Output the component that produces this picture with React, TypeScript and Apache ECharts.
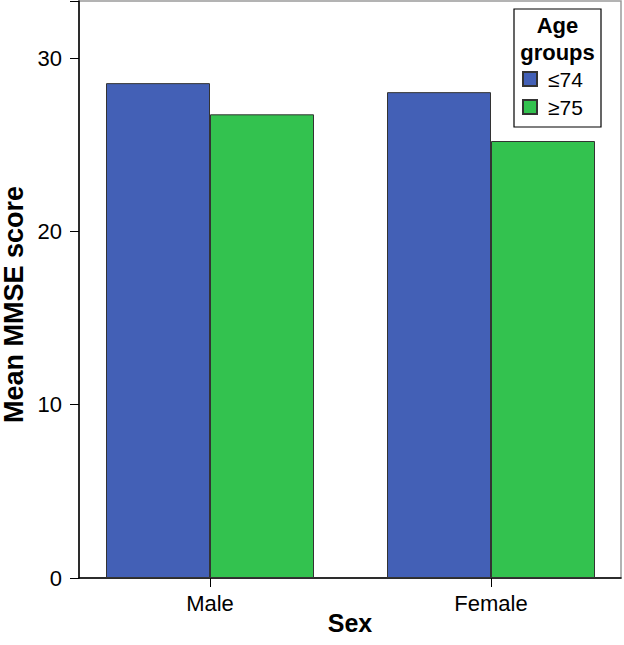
import React, { useEffect, useRef } from "react";
import * as echarts from "echarts";

const categories = ["Male", "Female"];
const groupNames = ["≤74", "≥75"];
const youngValues = [28.56, 28.04];
const oldValues = [26.76, 25.22];
const yTicks = [0, 10, 20, 30];

const FONT = "'Liberation Sans', Arial, Helvetica, sans-serif";

export default function App() {
  const ref = useRef<HTMLDivElement>(null);
  useEffect(() => {
    if (!ref.current) return;
    const chart = echarts.init(ref.current, null, { renderer: "svg" });
    const yMax = 33.3;
    chart.setOption({
      animation: false,
      backgroundColor: "#ffffff",
      textStyle: { fontFamily: FONT },
      grid: [
        {
          left: 69.5,
          width: 562,
          top: 1,
          bottom: 67,
          containLabel: false,
          outerBoundsMode: "none",
        },
        {
          left: 79,
          right: 3,
          top: 1,
          bottom: 67,
          show: true,
          borderColor: "#9a9a9a",
          borderWidth: 1.5,
          containLabel: false,
          outerBoundsMode: "none",
        },
      ],
      xAxis: [
        {
          type: "category",
          gridIndex: 0,
          data: categories,
          axisLine: { show: false },
          axisTick: {
            show: true,
            alignWithLabel: true,
            length: 9,
            lineStyle: { color: "#000", width: 1 },
          },
          axisLabel: {
            fontSize: 22,
            color: "#000",
            margin: 14,
            fontFamily: FONT,
          },
          splitLine: { show: false },
        },
        {
          type: "value",
          gridIndex: 1,
          min: 0,
          max: 1,
          axisLine: { show: true, onZero: false, lineStyle: { color: "#000", width: 1.5 } },
          axisTick: { show: false },
          axisLabel: { show: false },
          splitLine: { show: false },
          name: "Sex",
          nameLocation: "middle",
          nameGap: 32,
          nameMoveOverlap: false,
          nameTextStyle: {
            fontSize: 25,
            fontWeight: "bold",
            color: "#000",
            fontFamily: FONT,
          },
        },
      ],
      yAxis: [
        {
          type: "value",
          gridIndex: 0,
          min: 0,
          max: yMax,
          show: false,
          splitLine: { show: false },
        },
        {
          type: "value",
          gridIndex: 1,
          min: 0,
          max: yMax,
          interval: 10,
          axisLine: { show: true, lineStyle: { color: "#000", width: 1.5 } },
          axisTick: { show: true, length: 9, lineStyle: { color: "#000", width: 1 } },
          axisLabel: {
            fontSize: 22,
            color: "#000",
            margin: 17,
            fontFamily: FONT,
            formatter: (v: number) => (yTicks.includes(v) ? String(v) : ""),
          },
          splitLine: { show: false },
          name: "Mean MMSE score",
          nameLocation: "middle",
          nameRotate: 90,
          nameGap: 52,
          nameMoveOverlap: false,
          nameTextStyle: {
            fontSize: 27,
            fontWeight: "bold",
            color: "#000",
            fontFamily: FONT,
            padding: [0, 30, 0, 0],
          },
        },
      ],
      legend: {
        orient: "vertical",
        left: 522,
        top: 68,
        itemWidth: 14,
        itemHeight: 14,
        itemGap: 6,
        padding: 0,
        icon: "rect",
        data: groupNames,
        textStyle: {
          fontSize: 21,
          color: "#000",
          fontFamily: FONT,
          lineHeight: 22,
          padding: [0, 0, 0, 6],
        },
      },
      graphic: [
        {
          type: "rect",
          z: -1,
          shape: { x: 514, y: 9, width: 87, height: 118 },
          style: { fill: "#fff", stroke: "#000", lineWidth: 1.2 },
        },
        {
          type: "text",
          x: 557.5,
          y: 25,
          style: {
            text: "Age",
            fontSize: 22,
            fontWeight: "bold",
            fontFamily: FONT,
            fill: "#000",
            align: "center",
            verticalAlign: "middle",
          },
        },
        {
          type: "text",
          x: 557.5,
          y: 52,
          style: {
            text: "groups",
            fontSize: 22,
            fontWeight: "bold",
            fontFamily: FONT,
            fill: "#000",
            align: "center",
            verticalAlign: "middle",
          },
        },
      ],
      series: [
        {
          name: groupNames[0],
          type: "bar",
          xAxisIndex: 0,
          yAxisIndex: 0,
          data: youngValues,
          barWidth: 104,
          barGap: "0%",
          itemStyle: { color: "#4360B6", borderColor: "#333", borderWidth: 1 },
        },
        {
          name: groupNames[1],
          type: "bar",
          xAxisIndex: 0,
          yAxisIndex: 0,
          data: oldValues,
          barWidth: 104,
          barGap: "0%",
          itemStyle: { color: "#33C24F", borderColor: "#333", borderWidth: 1 },
        },
      ],
    });
    return () => chart.dispose();
  }, []);
  return (
    <div
      ref={ref}
      style={{ position: "absolute", left: 0, top: 0, width: 624, height: 645 }}
    />
  );
}
